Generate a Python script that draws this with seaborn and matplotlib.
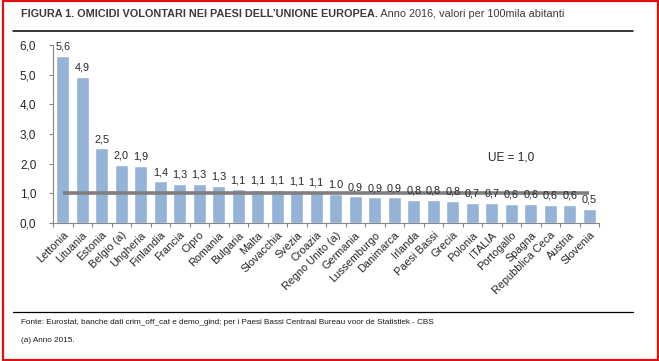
import matplotlib
matplotlib.use("Agg")
import matplotlib.pyplot as plt
import seaborn as sns
import pandas as pd
from matplotlib import font_manager as fm
from matplotlib.patches import Rectangle
from matplotlib.lines import Line2D

countries = ["Lettonia", "Lituania", "Estonia", "Belgio (a)", "Ungheria", "Finlandia",
             "Francia", "Cipro", "Romania", "Bulgaria", "Malta", "Slovacchia", "Svezia",
             "Croazia", "Regno Unito (a)", "Germania", "Lussemburgo", "Danimarca", "Irlanda",
             "Paesi Bassi", "Grecia", "Polonia", "ITALIA", "Portogallo", "Spagna",
             "Repubblica Ceca", "Austria", "Slovenia"]
values = [5.64, 4.92, 2.52, 1.96, 1.92, 1.41, 1.31, 1.31, 1.25, 1.14, 1.11, 1.11, 1.08,
          1.05, 0.98, 0.90, 0.87, 0.87, 0.78, 0.78, 0.75, 0.68, 0.68, 0.64, 0.64,
          0.61, 0.61, 0.47]
labels = ["5,6", "4,9", "2,5", "2,0", "1,9", "1,4", "1,3", "1,3", "1,3", "1,1", "1,1",
          "1,1", "1,1", "1,1", "1.0", "0,9", "0,9", "0,9", "0,8", "0,8", "0,8", "0,7",
          "0,7", "0,6", "0,6", "0,6", "0,6", "0,5"]
ue_value = 1.0
y_ticks = [0, 1, 2, 3, 4, 5, 6]
y_tick_labels = ["0,0", "1,0", "2,0", "3,0", "4,0", "5,0", "6,0"]

title_bold = "FIGURA 1. OMICIDI VOLONTARI NEI PAESI DELL\u2019UNIONE EUROPEA."
title_rest = " Anno 2016, valori per 100mila abitanti"
source = "Fonte: Eurostat, banche dati crim_off_cat e demo_gind; per i Paesi Bassi Centraal Bureau voor de Statistiek - CBS"
note = "(a) Anno 2015."

sns.set_theme(style="white")
names = {f.name for f in fm.fontManager.ttflist}
narrow = "Liberation Sans Narrow" if "Liberation Sans Narrow" in names else "Liberation Sans"
plt.rcParams["font.family"] = [narrow, "DejaVu Sans"]

W, H = 659, 361
fig = plt.figure(figsize=(W / 100, H / 100), dpi=100)
fig.patch.set_facecolor("white")

def fx(px):
    return px / W

def fy(py):
    return 1 - py / H

ax = fig.add_axes([fx(53), fy(223), fx(599) - fx(53), fy(45) - fy(223)])

df = pd.DataFrame({"paese": countries, "valore": values})
sns.barplot(data=df, x="paese", y="valore", color="#95b3d7", saturation=1,
            width=0.68, ax=ax, zorder=2)

ax.set_xlim(-0.5, len(countries) - 0.5)
ax.set_ylim(0, 6)
ax.set_xlabel("")
ax.set_ylabel("")

for sp in ["top", "right"]:
    ax.spines[sp].set_visible(False)
for sp in ["left", "bottom"]:
    ax.spines[sp].set_color("#868686")
    ax.spines[sp].set_linewidth(0.8)

ax.set_yticks(y_ticks)
ax.set_yticklabels(y_tick_labels, fontsize=8.5, color="#262626")
ax.tick_params(axis="y", length=3, width=0.8, color="#868686", pad=9, left=True)

ax.set_xticks(range(len(countries)))
ax.set_xticklabels(countries, rotation=45, ha="right", rotation_mode="anchor",
                   fontsize=7.8, color="#262626")
ax.tick_params(axis="x", length=0, pad=5)
ax.set_xticks([i - 0.5 for i in range(len(countries) + 1)], minor=True)
ax.tick_params(axis="x", which="minor", length=3, width=0.8, color="#868686", bottom=True)

for i, (v, lab) in enumerate(zip(values, labels)):
    ax.annotate(lab, (i, v), xytext=(0, 3), textcoords="offset points",
                ha="center", va="bottom", fontsize=7.8, color="#262626", zorder=4)

ax.hlines(ue_value, 0, len(countries) - 1, color="#7f7f7f", lw=2.6, zorder=3)
ax.text(21.8, 2.2, "UE = 1,0", fontsize=8.5, color="#262626", ha="left", va="center")

# page decorations
fig.add_artist(Line2D([fx(13), fx(633)], [fy(30.5), fy(30.5)], color="black", lw=1.1))
fig.add_artist(Line2D([fx(13), fx(633)], [fy(312), fy(312)], color="black", lw=0.9))
fig.add_artist(Rectangle((fx(3), fy(359.5)), fx(655), fy(1) - fy(359.5), fill=False,
                         edgecolor="#e01010", lw=1.6, transform=fig.transFigure))

t1 = fig.text(fx(21), fy(14), title_bold, fontsize=7.8, fontweight="bold", color="#3a3a3a",
              ha="left", va="center")
fig.canvas.draw()
bb = t1.get_window_extent()
fig.text(bb.x1 / W, fy(14), title_rest, fontsize=7.8, color="#3a3a3a", ha="left", va="center")

fig.text(fx(21), fy(322), source, fontsize=5.9, color="#1a1a1a", ha="left", va="center")
fig.text(fx(21), fy(341), note, fontsize=5.9, color="#1a1a1a", ha="left", va="center")

fig.savefig("out.png", dpi=100, facecolor="white")
